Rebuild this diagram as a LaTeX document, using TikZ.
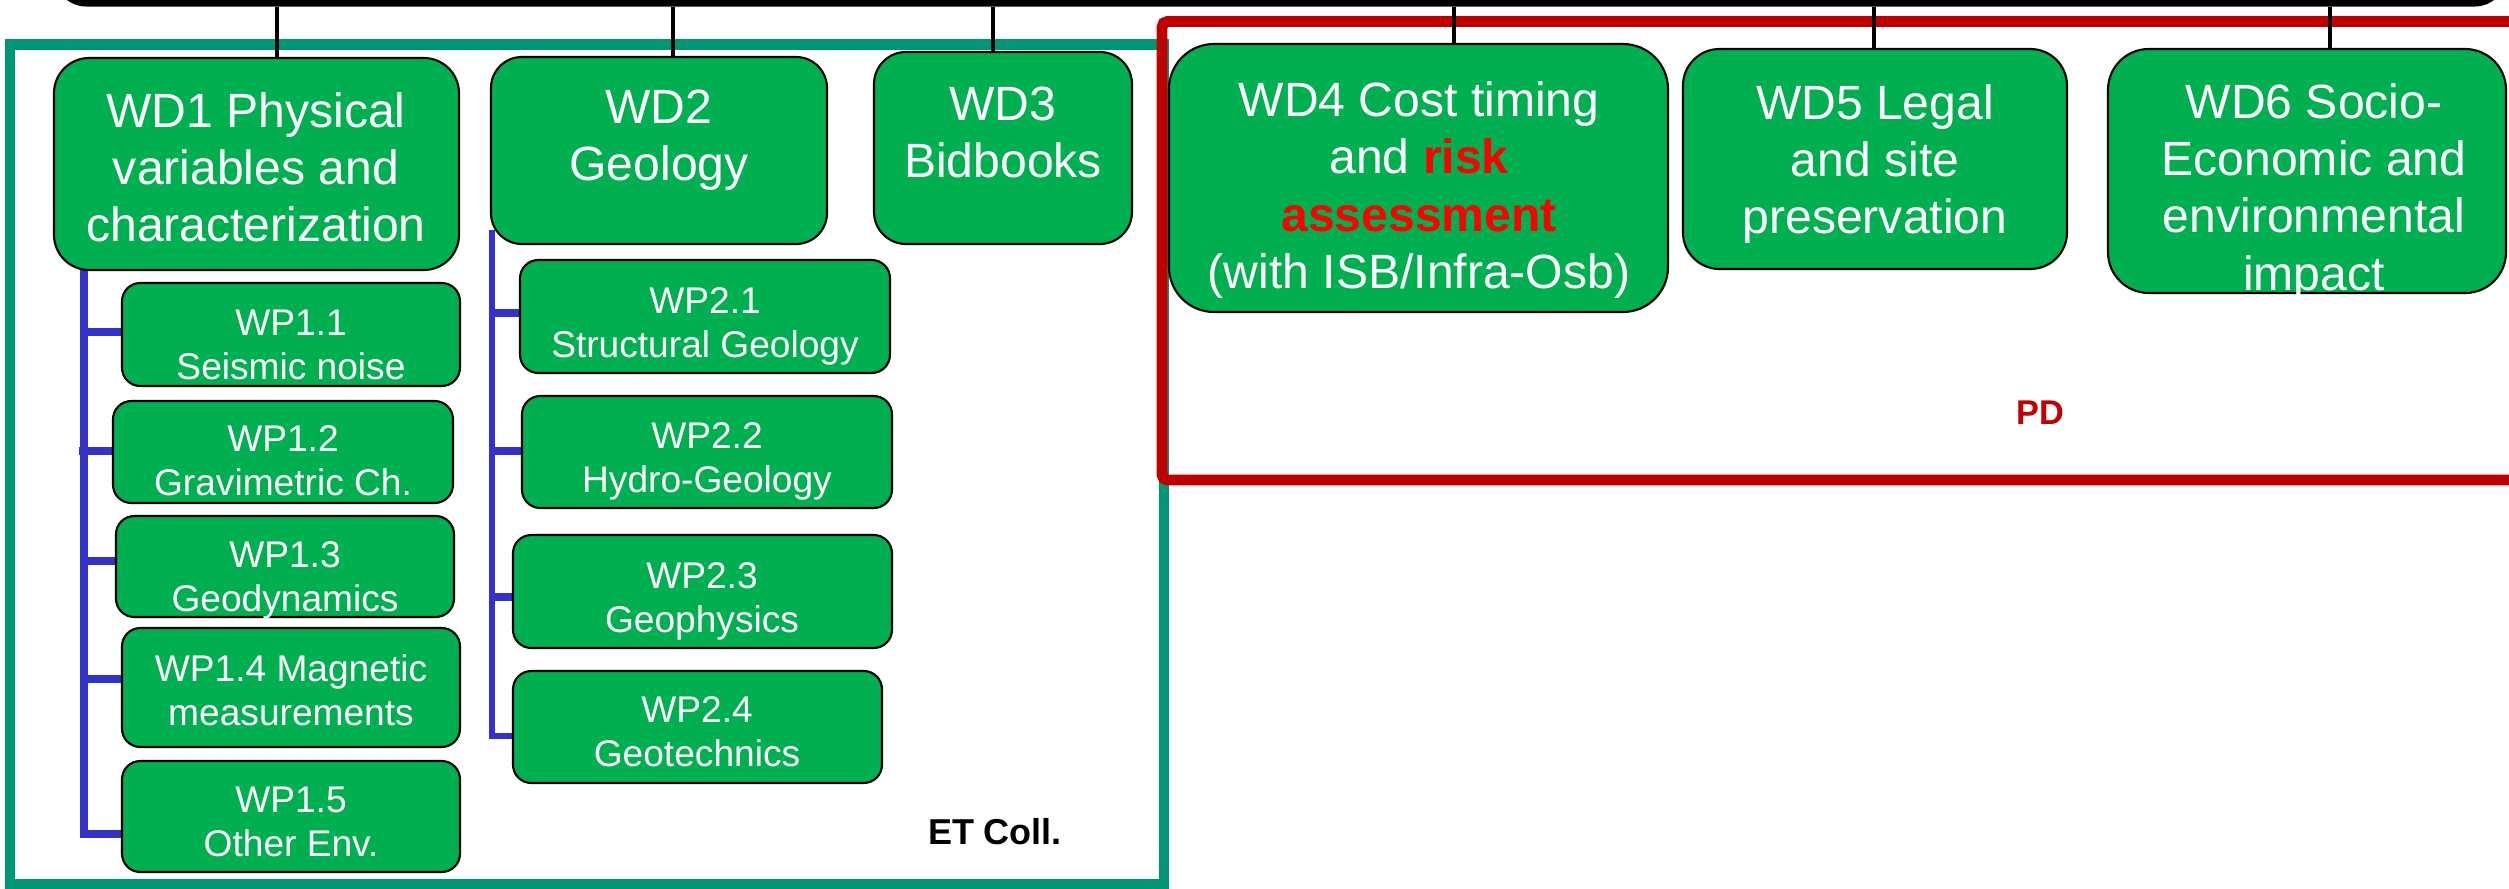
\documentclass[tikz,border=0pt]{standalone}
\usepackage{fontspec}
\setmainfont{Liberation Sans}
\usetikzlibrary{fit,calc,backgrounds}
\definecolor{boxgreen}{RGB}{0,176,80}
\definecolor{etteal}{RGB}{0,150,115}
\definecolor{pdred}{RGB}{192,0,0}
\definecolor{wpblue}{RGB}{51,51,204}
\definecolor{hotred}{RGB}{255,0,0}
\tikzset{
 box/.style={draw=black, line width=0.75pt, fill=boxgreen, inner sep=0pt},
 wpbox/.style={box, rounded corners=6.5pt},
 wdtext/.style={text=white, align=center, inner sep=0pt, font=\fontsize{17.1pt}{20.3pt}\selectfont},
 wptext/.style={text=white, align=center, inner sep=0pt, font=\fontsize{13.2pt}{15.65pt}\selectfont},
 tree/.style={draw=wpblue, line width=2.85pt},
 link/.style={draw=black, line width=1.2pt},
 frameline/.style={line width=3.9pt},
}
\begin{document}
\begin{tikzpicture}[x=0.0125cm, y=-0.0125cm]
\useasboundingbox (0,0) rectangle (2509,888);
\clip (0,0) rectangle (2509,888);

% frames
\draw[frameline, draw=etteal] (10,44.5) rectangle (1164,884);
\draw[frameline, draw=pdred, rounded corners=2pt] (1162,21.5) rectangle (2620,480);

% top bar
\node[draw=black, line width=2.5pt, rounded corners=10pt, inner sep=0pt, fit={(58,-200) (2503,3)}] (top) {};

% boxes
\node[box, rounded corners=12.5pt, fit={(54,58) (459,270)}] (wd1) {};
\node[box, rounded corners=11pt, fit={(491,57) (827,244)}] (wd2) {};
\node[box, rounded corners=11.4pt, fit={(874,52) (1132,244)}] (wd3) {};
\node[box, rounded corners=16pt, fit={(1169,44) (1668,312)}] (wd4) {};
\node[box, rounded corners=13pt, fit={(1683,49) (2067,269)}] (wd5) {};
\node[box, rounded corners=14.5pt, fit={(2108,49) (2506,293)}] (wd6) {};

\node[wpbox, fit={(122,283) (460,386)}] (wp11) {};
\node[wpbox, fit={(113,401) (453,503)}] (wp12) {};
\node[wpbox, fit={(116,516) (454,617)}] (wp13) {};
\node[wpbox, fit={(122,628) (460,747)}] (wp14) {};
\node[wpbox, fit={(122,761) (460,872)}] (wp15) {};
\node[wpbox, fit={(520,260) (890,373)}] (wp21) {};
\node[wpbox, fit={(522,396) (892,508)}] (wp22) {};
\node[wpbox, fit={(513,535) (892,648)}] (wp23) {};
\node[wpbox, fit={(513,671) (882,783)}] (wp24) {};

% connectors from top bar
\foreach \n/\x in {wd1/277, wd2/673, wd3/993, wd4/1454, wd5/1874, wd6/2330}
  \draw[link] (\x,0 |- top.south) -- (\x,0 |- \n.north);

% blue trees, behind the boxes
\begin{scope}[on background layer]
\coordinate (t1) at (84,270);
\draw[tree] (t1) |- ($(wp15.west)+(0,17)$);
\foreach \n/\d in {wp11/-3, wp13/-6, wp14/-9}
  \draw[tree] ($(t1 |- \n.west)+(0,\d)$) -- ($(\n.west)+(0,\d)$);
\draw[tree] ($(t1 |- wp12.west)+(-5,-1)$) -- ($(wp12.west)+(0,-1)$);
\coordinate (t2) at (492,230);
\draw[tree, line width=2.4pt] (t2) |- ($(wp24.west)+(0,9)$);
\foreach \n/\d in {wp21/-4, wp22/-1, wp23/5}
  \draw[tree] ($(t2 |- \n.west)+(0,\d)$) -- ($(\n.west)+(0,\d)$);
\end{scope}

% texts
\node[wdtext] (wd1t) at (256,167) {WD1 Physical\\variables and\\characterization};
\node[wdtext] (wd2t) at (659,140) {WD2\\Geology};
\node[wdtext] (wd3t) at (1003,132) {WD3\\Bidbooks};
\node[wdtext] (wd4t) at (1419,190) {WD4 Cost timing\\and {\color{hotred}\bfseries risk}\\{\color{hotred}\bfseries assessment}\\(with ISB/Infra-Osb)};
\node[wdtext] (wd5t) at (1875,164) {WD5 Legal\\and site\\preservation};
\node[wdtext] (wd6t) at (2314,192) {WD6 Socio-\\Economic and\\environmental\\impact};

\node[wptext] (wp11t) at (291,345) {WP1.1\\Seismic noise};
\node[wptext] (wp12t) at (283,461) {WP1.2\\Gravimetric Ch.};
\node[wptext] (wp13t) at (285,580) {WP1.3\\Geodynamics};
\node[wptext] (wp14t) at (291,690) {WP1.4 Magnetic\\measurements};
\node[wptext] (wp15t) at (291,822) {WP1.5\\Other Env.};
\node[wptext] (wp21t) at (705,326) {WP2.1\\Structural Geology};
\node[wptext] (wp22t) at (707,461) {WP2.2\\Hydro-Geology};
\node[wptext] (wp23t) at (702,601) {WP2.3\\Geophysics};
\node[wptext] (wp24t) at (697,732) {WP2.4\\Geotechnics};

\node[inner sep=0pt, font=\bfseries\fontsize{12.8pt}{15pt}\selectfont] (et) at (995,832) {ET Coll.};
\node[inner sep=0pt, text=pdred, font=\bfseries\fontsize{12.2pt}{15pt}\selectfont] (pd) at (2040,413) {PD};
\end{tikzpicture}
\end{document}
